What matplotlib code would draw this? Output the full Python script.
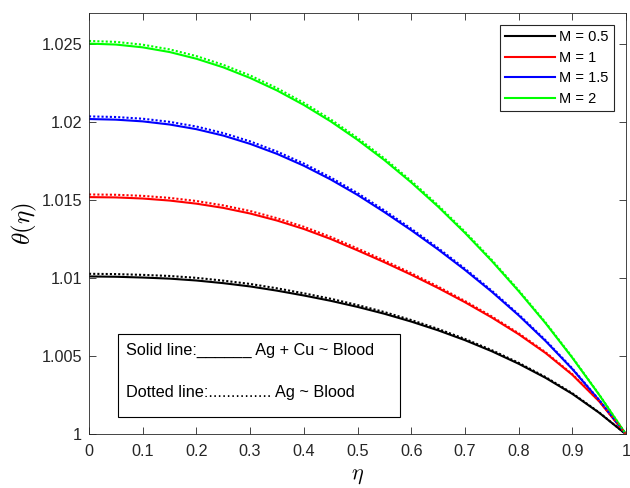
import matplotlib
matplotlib.use("Agg")
import matplotlib.pyplot as plt
from matplotlib.patches import Rectangle

plt.rcParams['font.family'] = ['Liberation Sans', 'DejaVu Sans']
plt.rcParams['mathtext.fontset'] = 'cm'

# data
eta = [0, 0.05, 0.1, 0.15, 0.2, 0.25, 0.3, 0.35, 0.4, 0.45, 0.5,
       0.55, 0.6, 0.65, 0.7, 0.75, 0.8, 0.85, 0.9, 0.95, 1.0]
m_labels = ["M = 0.5", "M = 1", "M = 1.5", "M = 2"]
colors = ["#000000", "#ff0000", "#0000ff", "#00ff00"]

# Ag + Cu ~ Blood (solid)
hybrid_05 = [1.01011, 1.01009, 1.01004, 1.00997, 1.00985, 1.00968, 1.00947, 1.00920, 1.00889, 1.00855, 1.00816,
             1.00772, 1.00722, 1.00666, 1.00603, 1.00532, 1.00452, 1.00362, 1.00259, 1.00138, 1.0]
hybrid_1 = [1.01519, 1.01517, 1.01510, 1.01497, 1.01477, 1.01450, 1.01414, 1.01369, 1.01315, 1.01251, 1.01178,
            1.01102, 1.01022, 1.00937, 1.00846, 1.00748, 1.00641, 1.00521, 1.00381, 1.00211, 1.0]
hybrid_15 = [1.02019, 1.02015, 1.02004, 1.01984, 1.01954, 1.01913, 1.01860, 1.01796, 1.01720, 1.01632, 1.01533,
             1.01423, 1.01307, 1.01184, 1.01053, 1.00913, 1.00762, 1.00598, 1.00418, 1.00218, 1.0]
hybrid_2 = [1.02502, 1.02496, 1.02478, 1.02448, 1.02405, 1.02350, 1.02282, 1.02202, 1.02109, 1.02004, 1.01886,
            1.01756, 1.01613, 1.01458, 1.01290, 1.01110, 1.00917, 1.00712, 1.00490, 1.00253, 1.0]

# Ag ~ Blood (dotted)
mono_05 = [1.01028, 1.01026, 1.01021, 1.01014, 1.01002, 1.00984, 1.00963, 1.00935, 1.00903, 1.00868, 1.00828,
           1.00783, 1.00732, 1.00675, 1.00611, 1.00539, 1.00458, 1.00367, 1.00263, 1.00140, 1.0]
mono_1 = [1.01536, 1.01534, 1.01527, 1.01514, 1.01494, 1.01466, 1.01430, 1.01384, 1.01329, 1.01264, 1.01190,
          1.01113, 1.01032, 1.00946, 1.00854, 1.00755, 1.00647, 1.00526, 1.00385, 1.00213, 1.0]
mono_15 = [1.02036, 1.02032, 1.02021, 1.02001, 1.01971, 1.01929, 1.01876, 1.01811, 1.01734, 1.01645, 1.01545,
           1.01434, 1.01317, 1.01193, 1.01061, 1.00920, 1.00768, 1.00603, 1.00422, 1.00220, 1.0]
mono_2 = [1.02519, 1.02513, 1.02495, 1.02465, 1.02422, 1.02366, 1.02298, 1.02217, 1.02123, 1.02017, 1.01898,
          1.01767, 1.01623, 1.01467, 1.01298, 1.01117, 1.00923, 1.00717, 1.00494, 1.00255, 1.0]

hybrid = [hybrid_05, hybrid_1, hybrid_15, hybrid_2]
mono = [mono_05, mono_1, mono_15, mono_2]

fig = plt.figure(figsize=(6.3, 4.88), dpi=100)
ax = fig.add_axes([0.1413, 0.110, 0.8524, 0.864])

for h, c, lab in zip(hybrid, colors, m_labels):
    ax.plot(eta, h, color=c, lw=1.5, label=lab)
for m, c in zip(mono, colors):
    ax.plot(eta, m, color=c, lw=1.5, linestyle=(0, (1, 1)))

ax.set_xlim(0, 1)
ax.set_ylim(1, 1.027)
ax.set_xticks([0, 0.1, 0.2, 0.3, 0.4, 0.5, 0.6, 0.7, 0.8, 0.9, 1])
ax.set_xticklabels(["0", "0.1", "0.2", "0.3", "0.4", "0.5", "0.6", "0.7", "0.8", "0.9", "1"])
ax.set_yticks([1, 1.005, 1.01, 1.015, 1.02, 1.025])
ax.set_yticklabels(["1", "1.005", "1.01", "1.015", "1.02", "1.025"])
ax.tick_params(direction="in", top=True, right=True, length=5, width=0.6,
               color="#262626", labelsize=11.7, labelcolor="#262626")
ax.tick_params(axis="x", pad=7)
ax.tick_params(axis="y", pad=5)
for s in ax.spines.values():
    s.set_color("#262626")
    s.set_linewidth(0.6)

ax.set_xlabel(r"$\eta$", fontsize=16, labelpad=4)
ax.set_ylabel(r"$\theta(\eta)$", fontsize=18, labelpad=2)

leg = ax.legend(loc="upper right", bbox_to_anchor=(0.978, 0.971), borderaxespad=0,
                fontsize=10.5, handlelength=3.4, labelspacing=0.45, handletextpad=0.3,
                fancybox=False, framealpha=1, borderpad=0.37)
leg.get_frame().set_edgecolor("#262626")
leg.get_frame().set_linewidth(0.8)

# annotation box
ax.add_patch(Rectangle((0.0534, 0.041), 0.5263, 0.196, transform=ax.transAxes,
                       fill=False, edgecolor="#000000", lw=0.8))
ax.text(0.0689, 0.200, "Solid line:______ Ag + Cu ~ Blood", transform=ax.transAxes,
        fontsize=11.7, va="center")
ax.text(0.0689, 0.0987, "Dotted line:.............. Ag ~ Blood", transform=ax.transAxes,
        fontsize=11.7, va="center")

fig.savefig("out.png", dpi=100)
